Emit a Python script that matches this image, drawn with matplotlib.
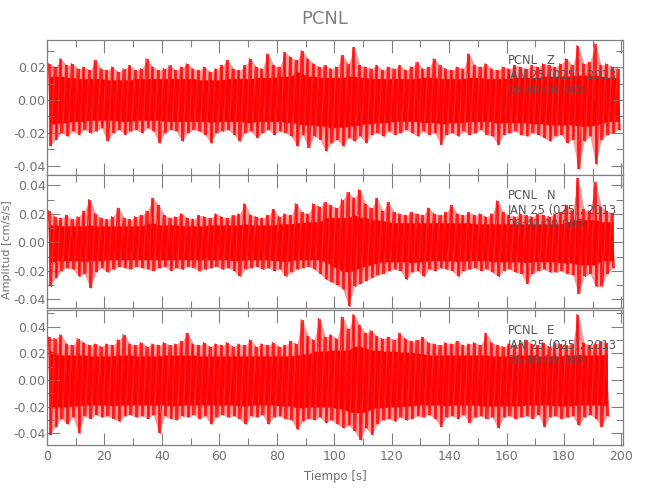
import numpy as np
import matplotlib
matplotlib.use("Agg")
import matplotlib.pyplot as plt
from matplotlib.ticker import MultipleLocator, FormatStrFormatter

# envelope of each trace, read per 2 s window (max / min), cm/s/s
BIN_S = 2.0
z_hi = [0.022, 0.020, 0.025, 0.021, 0.022, 0.019, 0.020, 0.018, 0.024, 0.019,
        0.018, 0.020, 0.017, 0.019, 0.021, 0.018, 0.019, 0.025, 0.020, 0.018,
        0.019, 0.021, 0.018, 0.020, 0.022, 0.019, 0.018, 0.020, 0.017, 0.019,
        0.021, 0.024, 0.019, 0.018, 0.021, 0.025, 0.020, 0.019, 0.028, 0.021,
        0.020, 0.029, 0.026, 0.024, 0.030, 0.025, 0.022, 0.020, 0.021, 0.019,
        0.020, 0.027, 0.022, 0.032, 0.021, 0.020, 0.019, 0.021, 0.018, 0.020,
        0.019, 0.021, 0.018, 0.020, 0.023, 0.019, 0.020, 0.025, 0.021, 0.019,
        0.018, 0.020, 0.019, 0.028, 0.021, 0.020, 0.022, 0.019, 0.018, 0.020,
        0.019, 0.021, 0.020, 0.019, 0.021, 0.020, 0.022, 0.021, 0.020, 0.022,
        0.025, 0.021, 0.033, 0.022, 0.023, 0.034, 0.021, 0.022, 0.020, 0.019]
z_lo = [-0.028, -0.024, -0.020, -0.022, -0.019, -0.021, -0.018, -0.020, -0.019, -0.017,
        -0.025, -0.020, -0.018, -0.021, -0.019, -0.018, -0.020, -0.017, -0.019, -0.026,
        -0.020, -0.018, -0.019, -0.025, -0.020, -0.018, -0.019, -0.021, -0.026, -0.020,
        -0.019, -0.018, -0.021, -0.025, -0.020, -0.019, -0.023, -0.020, -0.018, -0.021,
        -0.019, -0.020, -0.022, -0.028, -0.021, -0.029, -0.022, -0.024, -0.031, -0.026,
        -0.024, -0.028, -0.023, -0.025, -0.022, -0.026, -0.021, -0.020, -0.022, -0.019,
        -0.021, -0.020, -0.018, -0.020, -0.022, -0.019, -0.021, -0.020, -0.027, -0.021,
        -0.020, -0.022, -0.019, -0.021, -0.020, -0.018, -0.021, -0.022, -0.027, -0.021,
        -0.020, -0.019, -0.021, -0.022, -0.020, -0.021, -0.023, -0.025, -0.022, -0.021,
        -0.026, -0.024, -0.042, -0.025, -0.022, -0.039, -0.024, -0.021, -0.020, -0.018]

n_hi = [0.022, 0.018, 0.017, 0.019, 0.016, 0.018, 0.022, 0.030, 0.020, 0.017,
        0.016, 0.018, 0.024, 0.017, 0.016, 0.018, 0.019, 0.022, 0.031, 0.026,
        0.019, 0.017, 0.018, 0.020, 0.017, 0.016, 0.019, 0.018, 0.017, 0.020,
        0.018, 0.017, 0.019, 0.020, 0.027, 0.019, 0.018, 0.017, 0.019, 0.023,
        0.018, 0.020, 0.019, 0.027, 0.021, 0.020, 0.027, 0.025, 0.028, 0.026,
        0.024, 0.030, 0.035, 0.031, 0.037, 0.027, 0.024, 0.031, 0.022, 0.028,
        0.021, 0.020, 0.019, 0.021, 0.020, 0.019, 0.024, 0.020, 0.019, 0.021,
        0.026, 0.020, 0.019, 0.021, 0.019, 0.020, 0.018, 0.020, 0.029, 0.021,
        0.019, 0.018, 0.020, 0.019, 0.018, 0.020, 0.019, 0.018, 0.020, 0.021,
        0.026, 0.022, 0.045, 0.023, 0.022, 0.042, 0.025, 0.022, 0.020]
n_lo = [-0.031, -0.025, -0.020, -0.018, -0.019, -0.024, -0.022, -0.032, -0.021, -0.018,
        -0.021, -0.019, -0.017, -0.018, -0.019, -0.017, -0.018, -0.019, -0.020, -0.018,
        -0.017, -0.020, -0.018, -0.019, -0.017, -0.018, -0.020, -0.019, -0.018, -0.017,
        -0.019, -0.018, -0.020, -0.024, -0.019, -0.018, -0.017, -0.019, -0.018, -0.020,
        -0.019, -0.024, -0.021, -0.019, -0.018, -0.017, -0.019, -0.022, -0.026, -0.028,
        -0.030, -0.033, -0.045, -0.031, -0.029, -0.027, -0.025, -0.023, -0.022, -0.020,
        -0.019, -0.020, -0.026, -0.021, -0.020, -0.024, -0.019, -0.020, -0.018, -0.019,
        -0.020, -0.024, -0.020, -0.019, -0.018, -0.020, -0.019, -0.021, -0.024, -0.020,
        -0.019, -0.021, -0.022, -0.029, -0.022, -0.020, -0.019, -0.021, -0.021, -0.020,
        -0.022, -0.023, -0.036, -0.024, -0.022, -0.031, -0.031, -0.022, -0.018]

e_hi = [0.032, 0.031, 0.034, 0.027, 0.026, 0.031, 0.028, 0.026, 0.027, 0.025,
        0.027, 0.026, 0.030, 0.034, 0.027, 0.026, 0.028, 0.025, 0.027, 0.026,
        0.028, 0.026, 0.027, 0.029, 0.035, 0.027, 0.026, 0.028, 0.025, 0.027,
        0.026, 0.028, 0.025, 0.027, 0.026, 0.030, 0.025, 0.027, 0.026, 0.028,
        0.025, 0.026, 0.029, 0.027, 0.045, 0.033, 0.030, 0.046, 0.032, 0.034,
        0.031, 0.047, 0.038, 0.049, 0.041, 0.035, 0.037, 0.033, 0.031, 0.032,
        0.030, 0.035, 0.031, 0.029, 0.030, 0.032, 0.028, 0.027, 0.026, 0.028,
        0.027, 0.029, 0.026, 0.027, 0.028, 0.026, 0.035, 0.028, 0.026, 0.025,
        0.027, 0.026, 0.028, 0.030, 0.027, 0.026, 0.028, 0.025, 0.028, 0.027,
        0.026, 0.027, 0.049, 0.028, 0.026, 0.027, 0.029, 0.028]
e_lo = [-0.041, -0.035, -0.029, -0.033, -0.028, -0.040, -0.027, -0.029, -0.026, -0.028,
        -0.027, -0.029, -0.031, -0.027, -0.026, -0.028, -0.027, -0.029, -0.026, -0.040,
        -0.027, -0.029, -0.030, -0.027, -0.028, -0.026, -0.029, -0.027, -0.033, -0.028,
        -0.026, -0.028, -0.027, -0.029, -0.033, -0.027, -0.028, -0.026, -0.033, -0.028,
        -0.027, -0.029, -0.030, -0.037, -0.031, -0.029, -0.030, -0.028, -0.032, -0.030,
        -0.033, -0.036, -0.034, -0.038, -0.045, -0.036, -0.041, -0.033, -0.030, -0.029,
        -0.031, -0.028, -0.030, -0.029, -0.027, -0.028, -0.026, -0.029, -0.035, -0.028,
        -0.027, -0.029, -0.026, -0.032, -0.028, -0.027, -0.029, -0.028, -0.036, -0.028,
        -0.027, -0.029, -0.028, -0.027, -0.029, -0.026, -0.035, -0.028, -0.027, -0.029,
        -0.028, -0.027, -0.034, -0.028, -0.026, -0.029, -0.035, -0.027]

CHANNELS = ["Z", "N", "E"]
STATION = "PCNL"
DATE_STR = "JAN 25 (025), 2013"
TIME_STR = "06:40:00.000"
YLIMS = [(-0.0455, 0.0364), (-0.0461, 0.0472), (-0.0487, 0.0524)]
TRACES = [(z_hi, z_lo), (n_hi, n_lo), (e_hi, e_lo)]

GRAY = "#808080"
TXT = "#707070"
plt.rcParams["font.family"] = ["Liberation Sans Narrow", "DejaVu Sans"]


def core(v, w=5):
    # quiet part of the band: smallest neighbouring peak
    v = np.abs(np.asarray(v))
    pad = np.pad(v, w // 2, mode="edge")
    return np.array([pad[i:i + w].min() for i in range(len(v))])


fig = plt.figure(figsize=(6.5, 5.0), dpi=100)
boxes = [(0.0723, 0.650, 0.886, 0.270),
         (0.0723, 0.384, 0.886, 0.266),
         (0.0723, 0.110, 0.886, 0.270)]

for k, (chan, (hi, lo), ylim, box) in enumerate(zip(CHANNELS, TRACES, YLIMS, boxes)):
    ax = fig.add_axes(box)
    hi = np.asarray(hi); lo = np.asarray(lo)
    tc = np.arange(len(hi)) * BIN_S + BIN_S / 2
    # light envelope, solid core, then the spikes on top
    ax.fill_between(tc, lo, hi, color="#ff9a9a", lw=0)
    ax.fill_between(tc, -0.72 * core(lo), 0.72 * core(hi), color="#ff0000", lw=0)
    t = np.empty(2 * len(hi)); y = np.empty(2 * len(hi))
    t[0::2] = tc - 0.5; t[1::2] = tc + 0.5
    y[0::2] = hi; y[1::2] = lo
    ax.plot(t, y, color="#ff2020", lw=0.9)
    ax.vlines(tc, lo, hi, color="#ff0000", lw=1.1)

    ax.set_xlim(0, 200.5)
    ax.set_ylim(*ylim)
    ax.xaxis.set_major_locator(MultipleLocator(20))
    ax.xaxis.set_minor_locator(MultipleLocator(10))
    ax.yaxis.set_major_locator(MultipleLocator(0.02))
    ax.yaxis.set_minor_locator(MultipleLocator(0.01))
    ax.yaxis.set_major_formatter(FormatStrFormatter("%.2f"))
    ax.tick_params(which="both", direction="in", top=True, right=True,
                   colors=GRAY, labelcolor=TXT, labelsize=9, width=0.8)
    ax.tick_params(which="major", length=9)
    ax.tick_params(which="minor", length=5)
    ax.tick_params(axis="y", pad=1)
    if k < 2:
        ax.tick_params(labelbottom=False)
    for s in ax.spines.values():
        s.set_color(GRAY); s.set_linewidth(0.9)

    for yf, txt in [(0.845, STATION), (0.735, DATE_STR), (0.625, TIME_STR)]:
        ax.text(0.80, yf, txt, transform=ax.transAxes, color="#555555",
                fontsize=8.3, va="center")
    ax.text(0.868, 0.845, chan, transform=ax.transAxes, color="#555555",
            fontsize=8.3, va="center")
    if k == 2:
        ax.set_xlabel("Tiempo [s]", color=TXT, fontsize=8.5, labelpad=5)

fig.text(0.011, 0.50, "Amplitud [cm/s/s]", rotation=90, color=TXT,
         fontsize=8, ha="center", va="center")
fig.suptitle(STATION, color="#808080", fontsize=13, y=0.98)
fig.savefig("out.png", dpi=100)
